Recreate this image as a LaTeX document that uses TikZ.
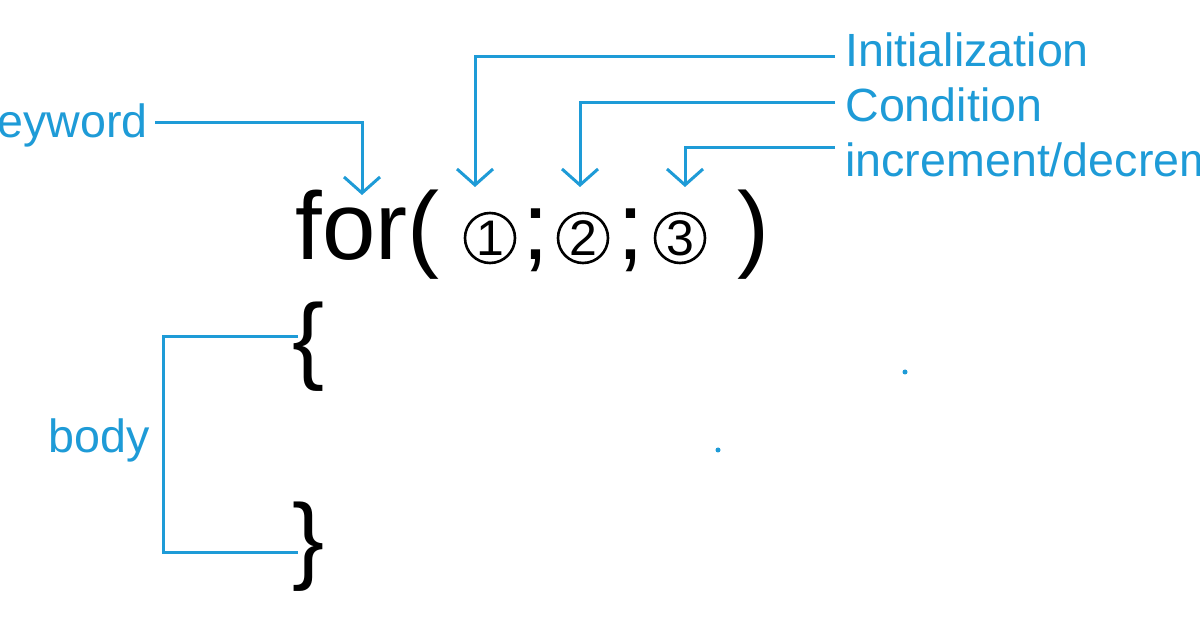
\documentclass[tikz,border=0pt]{standalone}
\usepackage{fontspec}
\setmainfont{Liberation Sans}
\usetikzlibrary{arrows.meta}
\definecolor{lblue}{HTML}{1E9BD7}
\tikzset{
  lbl/.style={text=lblue,font=\fontsize{23.3}{25}\selectfont,inner sep=0pt},
  conn/.style={draw=lblue,line width=1.5pt},
  arr/.style={conn,-{Straight Barb[length=8pt,width=18pt,line width=1.5pt]}},
  big/.style={font=\fontsize{48}{52}\selectfont,inner sep=0pt},
  circ/.style={circle,draw,line width=1.3pt,minimum size=25pt,inner sep=0pt,font=\fontsize{25}{27}\selectfont}
}
\begin{document}
\begin{tikzpicture}[x=0.5pt,y=-0.5pt]
\useasboundingbox (0,0) rectangle (1200,630);
\clip (0,0) rectangle (1200,630);
\fill[white] (0,0) rectangle (1200,630);
% code
\node[big,anchor=base west] (for) at (295,260) {for(};
\node[circ] (c1) at (490,238) {1};
\node[big,anchor=base] (s1) at (536,260) {;};
\node[circ] (c2) at (583,238) {2};
\node[big,anchor=base] (s2) at (631,260) {;};
\node[circ] (c3) at (680,238) {3};
\node[big,anchor=base] (cp) at (753,260) {)};
\node[big,anchor=base west] (ob) at (292,372) {\{};
\node[big,anchor=base west] (cb) at (292,572) {\}};
% labels
\node[lbl,anchor=east] (kw) at (148,125) {keyword};
\node[lbl,anchor=west] (init) at (845,50) {Initialization};
\node[lbl,anchor=west] (cond) at (845,105) {Condition};
\node[lbl,anchor=west] (inc) at (845,160) {increment/decrement};
\node[lbl,anchor=east] (body) at (150,440) {body};
% connectors
\coordinate (ka) at (362,195);
\coordinate (ia) at (475,187);
\coordinate (ca) at (580,187);
\coordinate (ea) at (685,187);
\draw[arr] (kw.east) ++(7,-2) -| (ka);
\draw[arr] (init.west) ++(-10,7) -| (ia);
\draw[arr] (cond.west) ++(-10,-2) -| (ca);
\draw[arr] (inc.west) ++(-10,-12) -| (ea);
\coordinate (bt) at (298,337);
\coordinate (bb) at (298,553);
\draw[conn] (bt) -- (163,337) -- (163,553) -- (bb);
% stray dots
\fill[lblue] (905,372) circle (2.5);
\fill[lblue] (718,450) circle (2.5);
\end{tikzpicture}
\end{document}
